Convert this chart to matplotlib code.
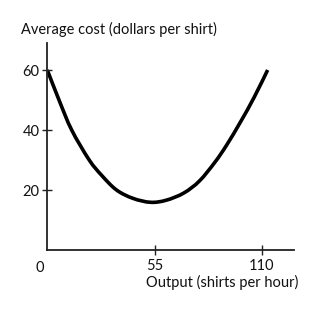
import matplotlib
matplotlib.use("Agg")
import matplotlib.pyplot as plt
from matplotlib.path import Path
from matplotlib.patches import PathPatch

plt.rcParams['font.family'] = ['Lato', 'DejaVu Sans']

output = [0, 6, 12.5, 21.5, 28, 35.5, 44, 53, 61, 70, 78, 86, 92, 99, 106, 113]
avg_cost = [60, 50, 40, 30, 24.8, 20, 17.2, 15.9, 16.6, 19.0, 23.0, 29.3, 35.0, 42.6, 50.8, 60]
x_ticks = [55, 110]
y_ticks = [20, 40, 60]
x_label = "Output (shirts per hour)"
y_label = "Average cost (dollars per shirt)"

W, H = 320, 310
fig = plt.figure(figsize=(W / 100, H / 100), dpi=100)
x0, x1 = 47.3, 294
y0, y1 = 250, 43
ax = fig.add_axes([x0 / W, (H - y0) / H, (x1 - x0) / W, (y0 - y1) / H])

# smooth curve through the read points (Catmull-Rom as cubic Bezier path)
pts = list(zip(output, avg_cost))
verts = [pts[0]]
codes = [Path.MOVETO]
n = len(pts)
for i in range(n - 1):
    p0 = pts[i - 1] if i > 0 else pts[i]
    p1 = pts[i]
    p2 = pts[i + 1]
    p3 = pts[i + 2] if i + 2 < n else pts[i + 1]
    c1 = (p1[0] + (p2[0] - p0[0]) / 6, p1[1] + (p2[1] - p0[1]) / 6)
    c2 = (p2[0] - (p3[0] - p1[0]) / 6, p2[1] - (p3[1] - p1[1]) / 6)
    verts += [c1, c2, p2]
    codes += [Path.CURVE4] * 3
ax.add_patch(PathPatch(Path(verts, codes), facecolor='none', edgecolor='black',
                       lw=2.6, capstyle='butt', joinstyle='round'))
ax.set_xlim(0, (x1 - x0) / 1.95)
ax.set_ylim(0, (y0 - y1) / 3.0)

for s in ['top', 'right']:
    ax.spines[s].set_visible(False)
for s in ['left', 'bottom']:
    ax.spines[s].set_linewidth(1.3)
    ax.spines[s].set_color('#222222')

ax.set_xticks(x_ticks)
ax.set_yticks(y_ticks)
ax.tick_params(axis='both', direction='inout', length=7, width=1.0, color='#222222',
               labelsize=10.5, labelcolor='#111111')
ax.tick_params(axis='x', pad=3)
ax.tick_params(axis='y', pad=2)

ax.text(-3.7, -3.5, "0", ha='center', va='top', fontsize=10.5, color='#111111')
fig.text(298 / W, (H - 282) / H, x_label, ha='right', va='center', fontsize=10.5, color='#111111')
fig.text(21 / W, (H - 29) / H, y_label, ha='left', va='center', fontsize=10.5, color='#111111')

fig.savefig("out.png", dpi=100)
